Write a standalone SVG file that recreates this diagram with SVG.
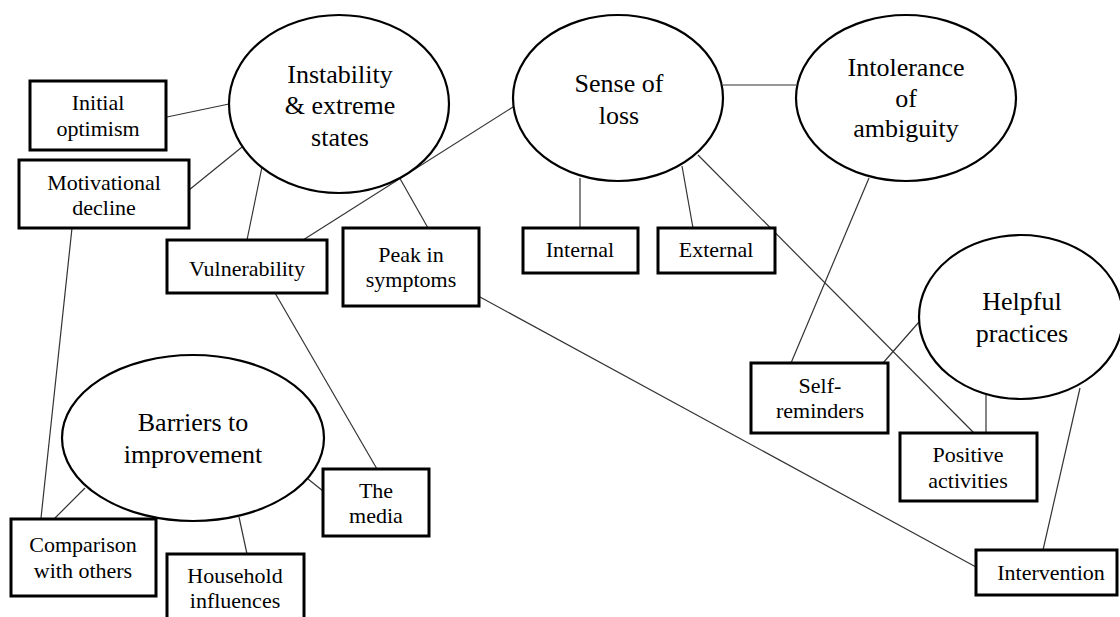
<svg xmlns="http://www.w3.org/2000/svg" width="1120" height="617" viewBox="0 0 1120 617">
<rect x="0" y="0" width="1120" height="617" fill="#fff"/>
<g id="connectors" stroke="#333" stroke-width="1.2">
<line x1="167" y1="117" x2="229" y2="104"/>
<line x1="189" y1="190" x2="247" y2="143"/>
<line x1="263" y1="162" x2="247" y2="240"/>
<line x1="394" y1="168" x2="428" y2="228"/>
<line x1="303" y1="240" x2="513" y2="107"/>
<line x1="72" y1="228" x2="41" y2="518"/>
<line x1="275" y1="293" x2="377" y2="469"/>
<line x1="723" y1="85" x2="796" y2="85"/>
<line x1="580" y1="178" x2="580" y2="228"/>
<line x1="682" y1="166" x2="693" y2="228"/>
<line x1="698" y1="155" x2="974" y2="433"/>
<line x1="869" y1="178" x2="791" y2="363"/>
<line x1="919" y1="322" x2="883" y2="363"/>
<line x1="986" y1="391" x2="986" y2="433"/>
<line x1="1080" y1="388" x2="1043" y2="550"/>
<line x1="480" y1="297" x2="976" y2="567"/>
<line x1="85" y1="488" x2="55" y2="518"/>
<line x1="239" y1="517" x2="247" y2="554"/>
<line x1="308" y1="479" x2="323" y2="491"/>
</g>
<g id="themes" style="font-family:'Liberation Serif',serif;font-size:26px" text-anchor="middle">
<g id="instability">
<ellipse cx="339" cy="104" rx="110" ry="89" fill="#fff" stroke="#000" stroke-width="2.2"/>
<text x="340" y="83">Instability</text>
<text x="340" y="114">&amp; extreme</text>
<text x="340" y="146">states</text>
</g>
<g id="sense-of-loss">
<ellipse cx="618" cy="98" rx="105" ry="83" fill="#fff" stroke="#000" stroke-width="2.2"/>
<text x="619" y="92">Sense of</text>
<text x="619" y="124">loss</text>
</g>
<g id="intolerance">
<ellipse cx="906" cy="98" rx="110" ry="83" fill="#fff" stroke="#000" stroke-width="2.2"/>
<text x="906" y="76">Intolerance</text>
<text x="906" y="107">of</text>
<text x="906" y="137">ambiguity</text>
</g>
<g id="helpful">
<ellipse cx="1021" cy="317" rx="102" ry="82" fill="#fff" stroke="#000" stroke-width="2.2"/>
<text x="1022" y="310">Helpful</text>
<text x="1022" y="342">practices</text>
</g>
<g id="barriers">
<ellipse cx="193" cy="438" rx="131" ry="83" fill="#fff" stroke="#000" stroke-width="2.2"/>
<text x="193" y="431">Barriers to</text>
<text x="193" y="463">improvement</text>
</g>
</g>
<g id="subthemes" style="font-family:'Liberation Serif',serif;font-size:22px" text-anchor="middle">
<g id="initial-optimism">
<rect x="30" y="81" width="136" height="69" fill="#fff" stroke="#000" stroke-width="3"/>
<text x="98" y="110">Initial</text>
<text x="98" y="136">optimism</text>
</g>
<g id="motivational-decline">
<rect x="19" y="160" width="170" height="68" fill="#fff" stroke="#000" stroke-width="3"/>
<text x="104" y="190">Motivational</text>
<text x="104" y="215">decline</text>
</g>
<g id="vulnerability">
<rect x="167" y="240" width="160" height="53" fill="#fff" stroke="#000" stroke-width="3"/>
<text x="247" y="276">Vulnerability</text>
</g>
<g id="peak">
<rect x="343" y="228" width="136" height="78" fill="#fff" stroke="#000" stroke-width="3"/>
<text x="411" y="262">Peak in</text>
<text x="411" y="287">symptoms</text>
</g>
<g id="internal">
<rect x="523" y="228" width="115" height="45" fill="#fff" stroke="#000" stroke-width="3"/>
<text x="580" y="257">Internal</text>
</g>
<g id="external">
<rect x="658" y="228" width="117" height="45" fill="#fff" stroke="#000" stroke-width="3"/>
<text x="716" y="257">External</text>
</g>
<g id="self-reminders">
<rect x="751" y="363" width="137" height="70" fill="#fff" stroke="#000" stroke-width="3"/>
<text x="820" y="393">Self-</text>
<text x="820" y="418">reminders</text>
</g>
<g id="positive-activities">
<rect x="900" y="433" width="137" height="68" fill="#fff" stroke="#000" stroke-width="3"/>
<text x="968" y="462">Positive</text>
<text x="968" y="488">activities</text>
</g>
<g id="intervention">
<rect x="976" y="550" width="141" height="45" fill="#fff" stroke="#000" stroke-width="3"/>
<text x="1051" y="580">Intervention</text>
</g>
<g id="comparison">
<rect x="11" y="519" width="145" height="77" fill="#fff" stroke="#000" stroke-width="3"/>
<text x="83" y="552">Comparison</text>
<text x="83" y="578">with others</text>
</g>
<g id="household">
<rect x="167" y="554" width="137" height="70" fill="#fff" stroke="#000" stroke-width="3"/>
<text x="235" y="583">Household</text>
<text x="235" y="608">influences</text>
</g>
<g id="media">
<rect x="323" y="469" width="106" height="67" fill="#fff" stroke="#000" stroke-width="3"/>
<text x="376" y="498">The</text>
<text x="376" y="523">media</text>
</g>
</g>
</svg>
